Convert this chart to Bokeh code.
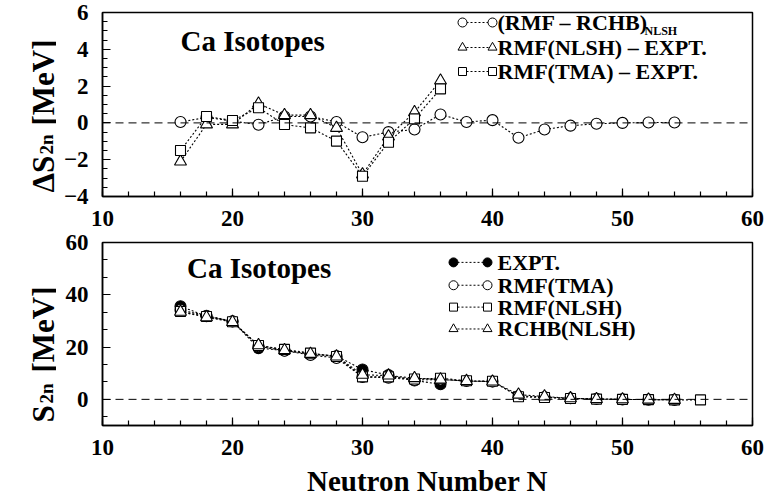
from bokeh.plotting import figure
from bokeh.layouts import column, row
from bokeh.models import SingleIntervalTicker, Span, Label, ColumnDataSource
from bokeh.embed import file_html
from bokeh.resources import INLINE

# ---------------- data ----------------
# Top panel: Delta S2n [MeV]
N_diff_rchb = [16, 18, 20, 22, 24, 26, 28, 30, 32, 34, 36, 38, 40, 42, 44, 46, 48, 50, 52, 54]
d_rmf_rchb = [0.05, 0.3, 0.1, -0.1, 0.35, 0.35, 0.05, -0.78, -0.5, -0.36, 0.46,
              0.05, 0.15, -0.81, -0.36, -0.15, -0.05, 0.0, 0.02, 0.02]
N_diff_expt = [16, 18, 20, 22, 24, 26, 28, 30, 32, 34, 36]
d_nlsh_expt = [-2.1, -0.08, -0.08, 1.05, 0.42, 0.42, -0.27, -2.8, -0.74, 0.58, 2.3]
d_tma_expt = [-1.5, 0.35, 0.13, 0.82, -0.09, -0.27, -0.99, -2.9, -1.05, 0.22, 1.85]

# Bottom panel: S2n [MeV]
N_expt = [16, 18, 20, 22, 24, 26, 28, 30, 32, 34, 36]
s2n_expt = [35.6, 31.8, 29.8, 19.6, 18.7, 17.3, 16.6, 11.4, 9.3, 7.2, 5.8]
N_tma = [16, 18, 20, 22, 24, 26, 28, 30, 32, 34, 36, 38, 40, 42, 44, 46, 48, 50, 52, 54]
s2n_tma = [34.2, 32.0, 29.9, 20.3, 18.6, 17.0, 15.8, 8.6, 8.3, 7.4, 7.6,
           7.0, 6.8, 1.3, 0.9, 0.4, 0.2, 0.0, -0.1, -0.2]
N_nlsh = [16, 18, 20, 22, 24, 26, 28, 30, 32, 34, 36, 38, 40, 42, 44, 46, 48, 50, 52, 54, 56]
s2n_nlsh = [33.6, 31.7, 29.7, 20.6, 19.1, 17.7, 16.4, 8.6, 8.6, 7.8, 8.1,
            7.1, 6.9, 1.0, 0.7, 0.3, 0.1, 0.0, -0.1, -0.2, -0.2]
N_rchb = [16, 18, 20, 22, 24, 26, 28, 30, 32, 34, 36, 38, 40, 42, 44, 46, 48, 50, 52, 54]
s2n_rchb = [33.5, 31.4, 29.6, 20.7, 18.8, 17.4, 16.4, 9.4, 9.1, 8.1, 7.6,
            7.0, 6.8, 1.8, 1.1, 0.4, 0.1, 0.0, -0.1, -0.2]

x_ticks_interval = 10

top_legend = ["(RMF \u2013 RCHB)", "RMF(NLSH) \u2013 EXPT.", "RMF(TMA) \u2013 EXPT."]
bottom_legend = ["EXPT.", "RMF(TMA)", "RMF(NLSH)", "RCHB(NLSH)"]

FONT = "Liberation Serif"
DASH = "2 2"
LEFT_W = 56          # strip holding the rotated y-axis titles
MAIN_W = 769 - LEFT_W
FRAME_LEFT = 102 - LEFT_W
TOTAL_H = 499


def style(p, y_interval, y_minor, y_overrides=None):
    p.xaxis.ticker = SingleIntervalTicker(interval=x_ticks_interval, num_minor_ticks=5)
    p.yaxis.ticker = SingleIntervalTicker(interval=y_interval, num_minor_ticks=y_minor)
    for ax in (p.xaxis, p.yaxis):
        ax.major_tick_in = 8
        ax.major_tick_out = 0
        ax.minor_tick_in = 5
        ax.minor_tick_out = 0
        ax.axis_line_width = 1.5
        ax.major_tick_line_width = 1.2
        ax.minor_tick_line_width = 1.2
        ax.major_label_text_font = FONT
        ax.major_label_text_font_style = "bold"
        ax.major_label_text_font_size = "23px"
        ax.major_label_text_color = "black"
    p.xaxis.major_label_standoff = 14
    p.yaxis.major_label_standoff = 14
    if y_overrides:
        p.yaxis.major_label_overrides = y_overrides
    p.xgrid.visible = False
    p.ygrid.visible = False
    p.outline_line_color = "black"
    p.outline_line_width = 1.5
    p.add_layout(Span(location=0, dimension="width", line_color="black",
                      line_dash="8 5", line_width=1))


def series(p, x, y, marker, size, fill="white"):
    src = ColumnDataSource(dict(x=x, y=y))
    p.line("x", "y", source=src, line_color="black", line_dash=DASH, line_width=1.1)
    p.scatter("x", "y", source=src, marker=marker, size=size, fill_color=fill,
              line_color="black", line_width=1.1)


# ---------------- top panel ----------------
top = figure(width=MAIN_W, height=230, x_range=(10, 60), y_range=(-4, 6),
             output_backend="svg", toolbar_location=None,
             min_border_left=FRAME_LEFT, min_border_right=17, min_border_top=12,
             min_border_bottom=34, background_fill_color="white")
style(top, 2, 4, {-4: "\u22124", -2: "\u22122"})
series(top, N_diff_rchb, d_rmf_rchb, "circle", 11)
series(top, N_diff_expt, d_nlsh_expt, "triangle", 12)
series(top, N_diff_expt, d_tma_expt, "square", 10)

top.add_layout(Label(x=16, y=4.45, text="Ca Isotopes", text_font=FONT,
                     text_font_style="bold", text_font_size="29px",
                     text_baseline="alphabetic", text_color="black"))

top_markers = ["circle", "triangle", "square"]
top_sizes = [9, 9, 8]
top_rows_px = [22, 47, 71]
for i, (lab, mk, sz) in enumerate(zip(top_legend, top_markers, top_sizes)):
    yv = 6 - (top_rows_px[i] - 12) / 18.4
    xa = 10 + (462 - 102) / 13
    xb = 10 + (492 - 102) / 13
    top.line([xa, xb], [yv, yv], line_color="black", line_dash=DASH, line_width=1)
    top.scatter([xa, xb], [yv, yv], marker=mk, size=sz, fill_color="white",
                line_color="black", line_width=1)
    top.add_layout(Label(x=10 + (497 - 102) / 13, y=yv, text=lab, text_font=FONT,
                         text_font_style="bold", text_font_size="22px",
                         text_baseline="middle", text_color="black"))
top.add_layout(Label(x=10 + (497 - 102) / 13, y=6 - (top_rows_px[0] - 12) / 18.4,
                     x_offset=147, y_offset=-8, text="NLSH", text_font=FONT,
                     text_font_style="bold", text_font_size="12px",
                     text_baseline="middle", text_color="black"))

# ---------------- bottom panel ----------------
bot = figure(width=MAIN_W, height=269, x_range=(10, 60), y_range=(-10, 60),
             output_backend="svg", toolbar_location=None,
             min_border_left=FRAME_LEFT, min_border_right=17, min_border_top=12,
             min_border_bottom=73, background_fill_color="white")
style(bot, 20, 3)
bot.xaxis.axis_label = "Neutron Number N"
bot.xaxis.axis_label_text_font = FONT
bot.xaxis.axis_label_text_font_style = "bold"
bot.xaxis.axis_label_text_font_size = "29px"
bot.xaxis.axis_label_standoff = 7
bot.xaxis.axis_label_text_color = "black"

series(bot, N_expt, s2n_expt, "circle", 11, fill="black")
series(bot, N_tma, s2n_tma, "circle", 11)
series(bot, N_nlsh, s2n_nlsh, "square", 10)
series(bot, N_rchb, s2n_rchb, "triangle", 12)

bot.add_layout(Label(x=16.5, y=50.2, text="Ca Isotopes", text_font=FONT,
                     text_font_style="bold", text_font_size="29px",
                     text_baseline="alphabetic", text_color="black"))

bot_markers = ["circle", "circle", "square", "triangle"]
bot_fills = ["black", "white", "white", "white"]
bot_sizes = [9, 9, 8, 9]
bot_rows_px = [262, 285, 307, 329]
for i, (lab, mk, fc, sz) in enumerate(zip(bottom_legend, bot_markers, bot_fills, bot_sizes)):
    yv = 60 - (bot_rows_px[i] - 242) / 2.63
    xa = 10 + (453 - 102) / 13
    xb = 10 + (487 - 102) / 13
    bot.line([xa, xb], [yv, yv], line_color="black", line_dash=DASH, line_width=1)
    bot.scatter([xa, xb], [yv, yv], marker=mk, size=sz, fill_color=fc,
                line_color="black", line_width=1)
    bot.add_layout(Label(x=10 + (497 - 102) / 13, y=yv, text=lab, text_font=FONT,
                         text_font_style="bold", text_font_size="22px",
                         text_baseline="middle", text_color="black"))

# ---------------- y-axis titles: one strip covering both panels ----------------
strip = figure(width=LEFT_W, height=TOTAL_H, x_range=(0, LEFT_W), y_range=(0, TOTAL_H),
               output_backend="svg", toolbar_location=None, min_border=0,
               min_border_left=0, min_border_right=0, min_border_top=0,
               min_border_bottom=0, title=None)
strip.axis.visible = False
strip.grid.visible = False
strip.outline_line_color = None
ytitle_parts = [("\u0394S", "31px", 43, 192), ("2n", "19px", 46, 154),
                ("[MeV]", "31px", 43, 125),
                ("S", "31px", 43, 422), ("2n", "19px", 46, 403),
                ("[MeV]", "31px", 43, 372)]
for text, size, xs, ys in ytitle_parts:
    strip.add_layout(Label(x=xs, y=TOTAL_H - ys, text=text, angle=1.5707963,
                           text_font=FONT, text_font_style="bold", text_font_size=size,
                           text_align="left", text_baseline="alphabetic",
                           text_color="black"))

layout = row(strip, column(top, bot, spacing=0), spacing=0)
open("out.html", "w").write(file_html(layout, INLINE))
